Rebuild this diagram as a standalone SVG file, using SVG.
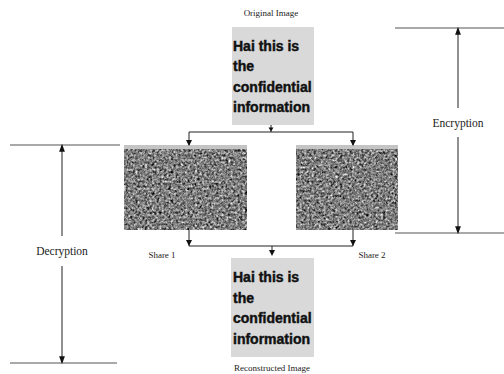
<svg xmlns="http://www.w3.org/2000/svg" width="504" height="374" viewBox="0 0 504 374">
<style>
.cap{font-family:"Liberation Serif",serif;font-size:9px;fill:#222;text-anchor:middle}
.lab{font-family:"Liberation Serif",serif;font-size:11.5px;fill:#222;text-anchor:middle}
.msg{font-family:"Liberation Sans",Arial,sans-serif;font-size:14px;font-weight:bold;fill:#111;stroke:#111;stroke-width:0.45}
.box{fill:#d9d9d9}
.ln{stroke:#222;stroke-width:1;fill:none}
.rule{stroke:#555;stroke-width:1.2;fill:none}
</style>
<defs>
<marker id="big" markerWidth="8" markerHeight="11" refX="8" refY="4" orient="auto-start-reverse" markerUnits="userSpaceOnUse" viewBox="0 0 11 8">
<path d="M0,0 L11,4 L0,8 z" fill="#111"/>
</marker>
<filter id="noise" x="0" y="0" width="100%" height="100%" color-interpolation-filters="sRGB">
<feTurbulence type="fractalNoise" baseFrequency="0.42" numOctaves="2" seed="7"/>
<feColorMatrix type="matrix" values="0.33 0.33 0.33 0 0 0.33 0.33 0.33 0 0 0.33 0.33 0.33 0 0 0 0 0 0 1"/>
<feComponentTransfer>
<feFuncR type="linear" slope="2.2" intercept="-0.6"/>
<feFuncG type="linear" slope="2.2" intercept="-0.6"/>
<feFuncB type="linear" slope="2.2" intercept="-0.6"/>
</feComponentTransfer>
</filter>
</defs>
<rect width="504" height="374" fill="#fff"/>

<g id="original">
<text class="cap" x="271" y="16">Original Image</text>
<rect class="box" x="232" y="27" width="82" height="98"/>
<text class="msg" x="233" y="51">Hai this is</text>
<text class="msg" x="233" y="71">the</text>
<text class="msg" x="233" y="92">confidential</text>
<text class="msg" x="233" y="112">information</text>
</g>

<g id="share1">
<rect x="124" y="145" width="123" height="85" fill="#888" filter="url(#noise)"/>
<rect x="124" y="145" width="123" height="4" fill="#c4c4c4"/>
<text class="cap" x="162" y="258">Share 1</text>
</g>

<g id="share2">
<rect x="296" y="145" width="102" height="85" fill="#888" filter="url(#noise)"/>
<rect x="296" y="145" width="102" height="4" fill="#c4c4c4"/>
<text class="cap" x="372" y="258">Share 2</text>
</g>

<g id="reconstructed">
<rect class="box" x="231" y="258" width="83" height="99"/>
<text class="msg" x="233" y="282">Hai this is</text>
<text class="msg" x="233" y="303">the</text>
<text class="msg" x="233" y="323">confidential</text>
<text class="msg" x="233" y="344">information</text>
<text class="cap" x="272" y="371">Reconstructed Image</text>
</g>

<g id="encryption">
<line class="rule" x1="395" y1="28" x2="504" y2="28"/>
<line class="rule" x1="395" y1="233" x2="504" y2="233"/>
<text class="lab" x="458" y="127">Encryption</text>
</g>

<g id="decryption">
<line class="rule" x1="10" y1="145" x2="120" y2="145"/>
<line class="rule" x1="10" y1="363" x2="117" y2="363"/>
<text class="lab" x="62" y="255">Decryption</text>
</g>

<g id="connectors">
<line class="ln" x1="271" y1="125" x2="271" y2="132"/>
<path d="M268.5,127.5 L273.5,127.5 L271,131.5 z" fill="#111"/>
<polyline class="ln" points="189,145 189,132 353,132 353,145"/>
<path d="M186,140 L192,140 L189,146 z M350,140 L356,140 L353,146 z" fill="#111"/>
<polyline class="ln" points="189,230 189,246 353,246 353,230"/>
<path d="M186,240 L192,240 L189,246 z M350,240 L356,240 L353,246 z" fill="#111"/>
<line class="ln" x1="272" y1="246" x2="272" y2="254"/>
<path d="M269,250 L275,250 L272,256 z" fill="#111"/>
<line class="ln" x1="458" y1="29" x2="458" y2="108" marker-start="url(#big)"/>
<line class="ln" x1="458" y1="137" x2="458" y2="232" marker-end="url(#big)"/>
<line class="ln" x1="62" y1="146" x2="62" y2="236" marker-start="url(#big)"/>
<line class="ln" x1="62" y1="266" x2="62" y2="362" marker-end="url(#big)"/>
</g>
</svg>
